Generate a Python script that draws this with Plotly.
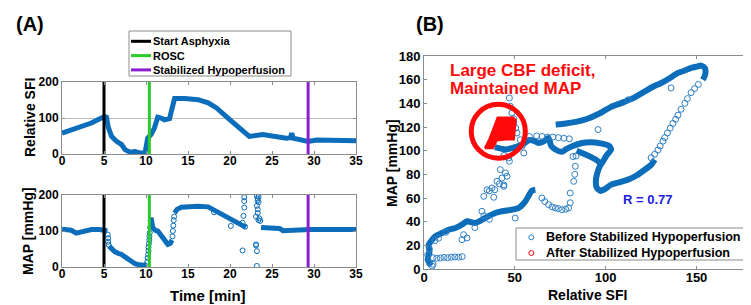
import plotly.graph_objects as go

# ---------------- data ----------------
# Panel A (top): Relative SFI vs time
sfi_t = [0, 0.5, 1.1, 2.3, 3.5, 4.5, 5.1, 5.3, 5.5, 5.9, 6.5, 7.1, 7.5, 8.1, 8.7, 9.25, 9.9, 10.2, 10.6,
         11.0, 11.4, 11.8, 12.2, 12.8, 13.2, 13.4, 14.6, 16.2, 17.4, 18.4, 20, 21.2, 22.3, 23.9, 25.5,
         26.7, 27.2, 27.35, 27.5, 28.7, 29.3, 30.3, 32.7, 35]
sfi_v = [58, 62, 67, 74, 86, 98, 104, 102, 75, 49, 35, 26, 12, 5, 7, 3, 5, 44, 54,
         72, 102, 100, 95, 98, 141, 154, 154, 151, 142, 128, 95, 72, 49, 54, 49,
         44, 46, 58, 44, 37, 35, 39, 37, 37]

# Panel A (bottom): MAP vs time, dense segments (None = gap)
map_t = [0, 0.5, 1.1, 1.7, 2.1, 2.5, 3.5, 4.5, 5.1, 5.4, None,
         5.6, 5.9, 6.3, 6.7, 7.1, 7.5, 7.9, 8.3, 8.7, 9.2, 9.8, 10.1, None,
         10.5, 10.6, 10.8, 11.1, 11.4, 11.8, 12.2, 12.6, 12.9, 13.1, None,
         13.4, 13.7, 14.2, 15, 16.2, 17.4, 18.4, 19.6, 20.8, 21.5, 21.9, None,
         23.7, 24.5, 25.9, 26.3, 27.1, 29.5, 32, 35]
map_v = [105, 104, 102, 94, 97, 100, 104, 104, 103, 100, None,
         58, 50, 42, 38, 35, 28, 21, 15, 9, 6, 5, 8, None,
         125, 137, 110, 102, 100, 88, 72, 63, 66, 75, None,
         150, 160, 166, 168, 169, 167, 155, 137, 123, 114, 110, None,
         110, 110, 107, 101, 102, 104, 104, 104]
# MAP isolated samples
map_sparse_t = [5.45, 5.5, 5.5, 5.55, 10.15, 10.2, 10.25, 10.3, 10.3, 10.35, 10.4, 10.4, 10.45, 10.5,
                13.15, 13.2, 13.25, 13.3, 13.35, 18.1, 20.1, 21.7, 21.7, 21.7, 21.6, 21.5, 21.5, 21.8,
                23.2, 23.3, 23.3, 23.4, 23.2, 23.3, 23.3, 23.1, 23.4, 23.6, 23.1, 23.1, 23.2, 23.2,
                23.5, 23.4]
map_sparse_v = [90, 80, 70, 62, 15, 25, 35, 45, 55, 65, 75, 85, 95, 110,
                85, 100, 115, 130, 140, 152, 114, 194, 183, 165, 142, 123, 46, 112,
                197, 190, 185, 180, 170, 160, 150, 140, 130, 128, 63, 60, 44, 3,
                135, 195]

# Event markers
event_names = ["Start Asphyxia", "ROSC", "Stabilized Hypoperfusion"]
event_times = [5.0, 10.4, 29.3]
event_colors = ["#000000", "#2BCB2B", "#8B1FD0"]

# Panel B: MAP vs Relative SFI
b_dense_sfi = [4, 2, 3, 2.6, 6.2, 9.9, 13.6, 17.2, 20.9, 23.7, 28.2, 33.7, 39.2, 42.9, 48.4, 52.1, 55.8, 59.4, 61.3, None,
               39, 45, 50, 54, 58, 61, 63, 66, 68.6, 70, 72.3, 75.9, 78, 81.5, 87, 92.5, 98, 102, 103,
               100.5, 98.5, 96.5, 95.2, 94.6, 95, 97, 100, 103, 108, 112.3, 117, 121.5, 125, 127, None,
               84, 90, 95, 98, None,
               72.5, 78, 84.8, 90, 96, 103, 110, 116, 121.5, 126, 130.6, 135, 139.8, 144, 147.1, 150,
               152.6, 154.5, 155, 154.5, 153.5]
b_dense_map = [3, 8, 14, 20.5, 27.6, 30.4, 33.2, 34.7, 37.5, 40.3, 38.9, 43.1, 47.3, 48.8, 50.1, 51.6, 57.2, 66.2, 67, None,
               103, 101, 103, 105, 109, 108, 106.5, 108, 110.7, 104, 101, 99, 101, 103.7, 106.5, 107.1, 106, 104, 101,
               96, 91, 86, 80, 74, 69, 66, 68, 71.3, 73.5, 75.5, 79, 83.9, 88, 92.4, None,
               100, 96, 92, 88, None,
               122, 123, 124.8, 127, 131, 137, 141, 145, 150, 154, 157.2, 161, 165.7, 168, 169.9, 171,
               171.9, 170, 167, 163, 160]
b_sparse_sfi = [151, 149, 147, 145, 143.6, 141.5, 139.8, 138.5, 137, 135.5, 134, 132.5, 131.5, 130, 128.8, 127, 125,
                136, 112.3, 95.8,
                47, 47.5, 48.4, 49.4, 49.4, 50.5, 51.2, 53, 53.9, 54.9, 44, 47,
                58, 62, 65, 68, 71, 74, 77, 80,
                64.9, 66.5, 68.6, 70.5, 72.3, 74, 75.9, 78, 79.6, 80.5, 80.5, 82.4, 83, 83.3, 82, 83.7,
                31.9, 32.9, 34.7, 36, 37.4, 38.4, 40.2, 41.5, 42.9, 43.9, 44.8, 42, 45.7, 46.6, 44, 39,
                5, 7, 9, 11, 13, 15, 17, 19, 21,
                21.8, 23.7, 20.9, 50.2, 28, 33, 36,
                3, 5, 4.5, 2, 3, 6, 8, 12]
b_sparse_map = [156, 152.5, 149, 144, 140, 135, 130, 126.5, 123, 119, 115, 111, 108, 104, 100.6, 97, 94,
                153, 143, 117.8,
                144.5, 137.5, 131.9, 127, 123.4, 119, 115, 109.3, 103.7, 98, 96, 91,
                112, 112.5, 112, 111.5, 111.5, 111, 110.5, 110,
                60, 57, 54.4, 52.5, 51.6, 51, 50.1, 50.5, 51.6, 56, 64.2, 74.1, 80, 86.8, 95, 95.5,
                48.8, 61.4, 67, 66, 68.5, 60.6, 74.1, 72, 76.9, 69.9, 81.2, 84, 78.4, 93.8, 71, 67,
                9.5, 9, 9.3, 9.8, 9.5, 10, 10.2, 10, 10.5,
                29, 26.2, 24.8, 43.1, 35, 45, 42,
                5, 4, 2.5, 12, 17, 24, 26, 31]
# After stabilized hypoperfusion (dense cluster outline)
after_sfi = [33.5, 38, 40, 45, 49.5, 50.5, 49, 40.5, 38.5, 36, 33.5]
after_map = [102, 102, 108.5, 109.5, 109.5, 126, 128, 128, 120, 110, 102]

b_series_names = ["Before Stabilized Hypoperfusion", "After Stabilized Hypoperfusion"]
b_series_colors = ["#2F80C6", "#FF0A0A"]

time_ticks = [0, 5, 10, 15, 20, 25, 30, 35]

# ---------------- figure ----------------
BLUE = "#0C6DBA"
RED = "#FF0A0A"
FONT = "Liberation Sans"
W, H = 751, 305


def px_x(p):
    return p / W


def px_y(p):
    return 1 - p / H


fig = go.Figure()

# Panel A top
fig.add_trace(go.Scatter(x=sfi_t, y=sfi_v, mode="lines", line=dict(color=BLUE, width=5),
                         showlegend=False, xaxis="x", yaxis="y"))
# Panel A bottom
fig.add_trace(go.Scatter(x=map_t, y=map_v, mode="lines", line=dict(color=BLUE, width=5),
                         showlegend=False, xaxis="x2", yaxis="y2", connectgaps=False))
fig.add_trace(go.Scatter(x=map_sparse_t, y=map_sparse_v, mode="markers",
                         marker=dict(symbol="circle-open", size=5, color=BLUE, line=dict(width=1)),
                         showlegend=False, xaxis="x2", yaxis="y2"))

for name, tt, col in zip(event_names, event_times, event_colors):
    for xa, ya in (("x", "y"), ("x2", "y2")):
        fig.add_trace(go.Scatter(x=[tt, tt], y=[0, 200], mode="lines", line=dict(color=col, width=3),
                                 name=name, showlegend=False, xaxis=xa, yaxis=ya))

# Panel B
fig.add_trace(go.Scatter(x=b_dense_sfi, y=b_dense_map, mode="lines",
                         line=dict(color=BLUE, width=6, shape="spline", smoothing=0.6),
                         showlegend=False, xaxis="x3", yaxis="y3", connectgaps=False))
fig.add_trace(go.Scatter(x=b_sparse_sfi, y=b_sparse_map, mode="markers",
                         marker=dict(symbol="circle-open", size=6, color=b_series_colors[0], line=dict(width=1)),
                         name=b_series_names[0], showlegend=False, xaxis="x3", yaxis="y3"))
fig.add_trace(go.Scatter(x=after_sfi, y=after_map, mode="lines", fill="toself",
                         fillcolor=RED, line=dict(color=RED, width=2),
                         name=b_series_names[1], showlegend=False, xaxis="x3", yaxis="y3"))

axis_common = dict(showline=True, linecolor="#8C8C8C", linewidth=1, mirror="ticks", ticks="inside",
                   tickcolor="#8C8C8C", ticklen=3, zeroline=False, showgrid=False,
                   tickfont=dict(family=FONT, size=12, color="black", weight="bold"))
tickfont_b = dict(family=FONT, size=13, color="black", weight="bold")

fig.update_layout(
    width=W, height=H, margin=dict(l=0, r=0, t=0, b=0, autoexpand=False),
    paper_bgcolor="white", plot_bgcolor="white", showlegend=False,
    font=dict(family=FONT, color="black"),
    xaxis=dict(domain=[px_x(54), px_x(348)], range=[0, 35], tickvals=time_ticks, anchor="y",
               ticklabelstandoff=-4, **axis_common),
    yaxis=dict(domain=[px_y(146), px_y(74)], range=[0, 200], tickvals=[0, 100, 200], anchor="x",
               **{**axis_common, "showgrid": True, "gridcolor": "#BDBDBD"}),
    xaxis2=dict(domain=[px_x(54), px_x(348)], range=[0, 35], tickvals=time_ticks, anchor="y2",
                ticklabelstandoff=-4, **axis_common),
    yaxis2=dict(domain=[px_y(259), px_y(187)], range=[0, 200], tickvals=[0, 100, 200], anchor="x2",
                **axis_common),
    xaxis3=dict(domain=[px_x(416), px_x(743)], range=[0, 180], tickvals=[0, 50, 100, 150], anchor="y3",
                ticklabelstandoff=-4, **{**axis_common, "tickfont": tickfont_b}),
    yaxis3=dict(domain=[px_y(261), px_y(48)], range=[0, 180], tickvals=list(range(0, 181, 20)), anchor="x3",
                **{**axis_common, "tickfont": tickfont_b}),
)

fig.add_shape(type="circle", xref="x3", yref="y3", x0=26.0, x1=55.8, y0=93.6, y1=139.2,
              line=dict(color=RED, width=5), layer="above")


def ann(text, x, y, size, color="black", angle=0, xanchor="center"):
    fig.add_annotation(text=text, x=px_x(x), y=px_y(y), xref="paper", yref="paper", showarrow=False,
                       textangle=angle, xanchor=xanchor, yanchor="middle", borderpad=0,
                       font=dict(family=FONT, size=size, color=color, weight="bold"))


# ---- legend A (built by hand to match the compact box) ----
fig.add_shape(type="rect", xref="paper", yref="paper", x0=px_x(121), x1=px_x(283), y0=px_y(68), y1=px_y(23),
              line=dict(color="#8C8C8C", width=1), fillcolor="white", layer="above")
for i, (name, col) in enumerate(zip(event_names, event_colors)):
    yy = 33.3 + i * 14.3
    fig.add_shape(type="line", xref="paper", yref="paper", x0=px_x(123), x1=px_x(143), y0=px_y(yy), y1=px_y(yy),
                  line=dict(color=col, width=3), layer="above")
    ann(name, 144, yy, 11, xanchor="left")

# ---- legend B ----
fig.add_shape(type="rect", xref="paper", yref="paper", x0=px_x(508), x1=px_x(737), y0=px_y(252), y1=px_y(220),
              line=dict(color="#8C8C8C", width=1), fillcolor="white", layer="above")
for i, (name, col) in enumerate(zip(b_series_names, b_series_colors)):
    yy = 229.3 + i * 15.7
    fig.add_shape(type="circle", xref="paper", yref="paper", x0=px_x(520.8), x1=px_x(525.8),
                  y0=px_y(yy + 2.5), y1=px_y(yy - 2.5), line=dict(color=col, width=1), layer="above")
    ann(name, 536.5, yy, 12.6, xanchor="left")

ann("(A)", 22, 16, 20)
ann("(B)", 422, 16, 20)
ann("Relative SFI", 22, 110, 14, angle=-90)
ann("MAP [mmHg]", 20, 223, 14, angle=-90)
ann("Time [min]", 200, 287, 15)
ann("MAP [mmHg]", 384, 155, 14, angle=-90)
ann("Relative SFI", 579, 287, 14)
ann("Large CBF deficit,", 441, 62, 17, color=RED, xanchor="left")
ann("Maintained MAP", 441, 80, 17, color=RED, xanchor="left")
ann("R = 0.77", 640, 191, 13, color="#2020E0")

fig.write_html("out.html")
